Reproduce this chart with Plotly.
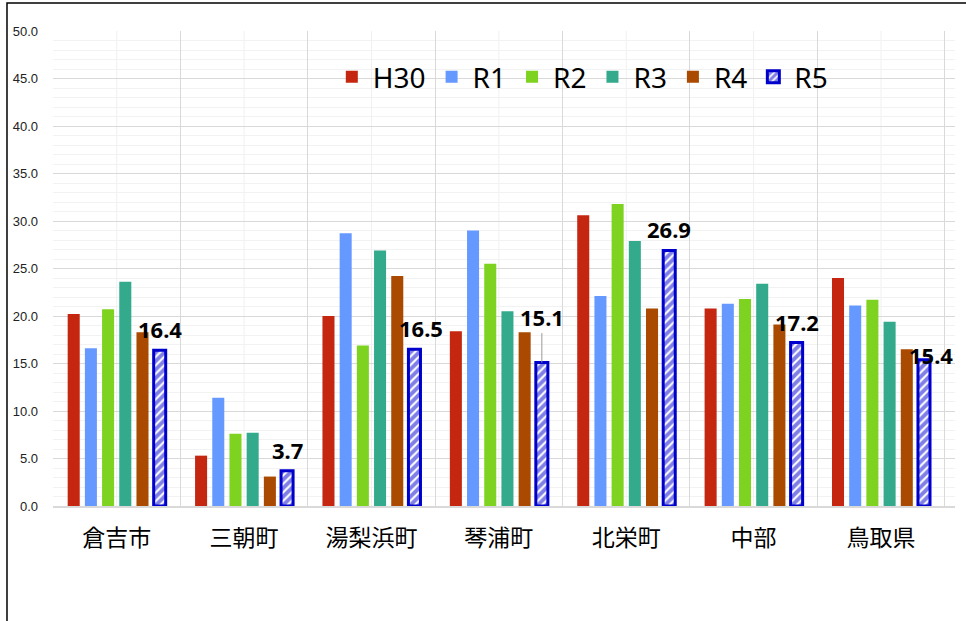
"""Grafico de barras agrupadas por municipio (H30 .. R5)."""
import plotly.graph_objects as go

categories = ["倉吉市", "三朝町", "湯梨浜町", "琴浦町", "北栄町", "中部", "鳥取県"]
years = ["H30", "R1", "R2", "R3", "R4", "R5"]
h30 = [20.2, 5.3, 20.0, 18.4, 30.6, 20.8, 24.0]
r1 = [16.6, 11.4, 28.7, 29.0, 22.1, 21.3, 21.1]
r2 = [20.7, 7.6, 16.9, 25.5, 31.8, 21.8, 21.7]
r3 = [23.6, 7.7, 26.9, 20.5, 27.9, 23.4, 19.4]
r4 = [18.3, 3.1, 24.2, 18.3, 20.8, 19.1, 16.5]
r5 = [16.4, 3.7, 16.5, 15.1, 26.9, 17.2, 15.4]

series = [h30, r1, r2, r3, r4]
colors = ["#C4260F", "#6699FF", "#7ED321", "#33AA8C", "#AA4A00"]
R5_BLUE = "#0000CC"

# ajuste manual de etiquetas (px): (xshift extra, yshift)
label_nudge = {"湯梨浜町": (7, 21), "鳥取県": (7, 5)}

fig = go.Figure()
for name, vals, col in zip(years[:5], series, colors):
    fig.add_trace(go.Bar(x=categories, y=vals, name=name,
                         marker=dict(color=col, line=dict(width=0))))
fig.add_trace(go.Bar(
    x=categories, y=r5, name="R5",
    marker=dict(color="white", line=dict(color=R5_BLUE, width=3),
                pattern=dict(shape="/", fgcolor=R5_BLUE, bgcolor="white",
                             size=6, solidity=0.65)),
))

# etiquetas solo para R5
for cat, v in zip(categories, r5):
    dx, dy = label_nudge.get(cat, (0, 21))
    if cat == "琴浦町":
        fig.add_annotation(x=cat, y=v, text=f"<b>{v:.1f}</b>", xshift=43,
                           showarrow=True, arrowhead=0, arrowwidth=1,
                           arrowcolor="#999999", ax=0, ay=-46,
                           font=dict(size=22, color="black", family="Noto Sans"))
    else:
        fig.add_annotation(x=cat, y=v, text=f"<b>{v:.1f}</b>", xshift=43 + dx,
                           yshift=dy, showarrow=False,
                           font=dict(size=22, color="black", family="Noto Sans"))

# grilla vertical clara en el centro de cada categoria
for cat in categories:
    fig.add_shape(type="line", x0=cat, x1=cat, y0=0, y1=1, yref="paper",
                  line=dict(color="#F0F0F0", width=1), layer="below")

# borde del area del grafico
fig.add_shape(type="rect", xref="paper", yref="paper",
              x0=-0.051, x1=1.2, y0=-0.5, y1=1.059,
              line=dict(color="black", width=1.5), layer="below")

fig.update_layout(
    width=966, height=621,
    margin=dict(l=53, r=11, t=31, b=115),
    paper_bgcolor="white", plot_bgcolor="white",
    barmode="group", bargap=0.19, bargroupgap=0.3,
    font=dict(family="Noto Sans", color="black"),
    legend=dict(orientation="h", x=0.308, xanchor="left", y=0.903,
                yanchor="middle", font=dict(size=28, family="Noto Sans"),
                bgcolor="rgba(0,0,0,0)", itemwidth=32),
)
fig.update_xaxes(
    type="category", tickson="boundaries", showgrid=True,
    gridcolor="#D9D9D9", gridwidth=1, automargin=False,
    showline=True, linecolor="#D9D9D9", linewidth=2,
    ticks="", ticklabelstandoff=10,
    tickfont=dict(size=23, family="Noto Sans CJK JP", color="black"),
)
fig.update_yaxes(
    range=[0, 50], dtick=5, tickformat=".1f", automargin=False,
    showgrid=True, gridcolor="#D9D9D9", gridwidth=1,
    minor=dict(dtick=1, showgrid=True, gridcolor="#F2F2F2"),
    zeroline=False, ticks="", ticklabelstandoff=14,
    tickfont=dict(size=13, family="Liberation Sans", color="#222222"),
)

# sin margen del body para que el grafico ocupe toda la ventana
fig.write_html("out.html", config={"displayModeBar": False},
               post_script="document.body.style.margin = '0';")
